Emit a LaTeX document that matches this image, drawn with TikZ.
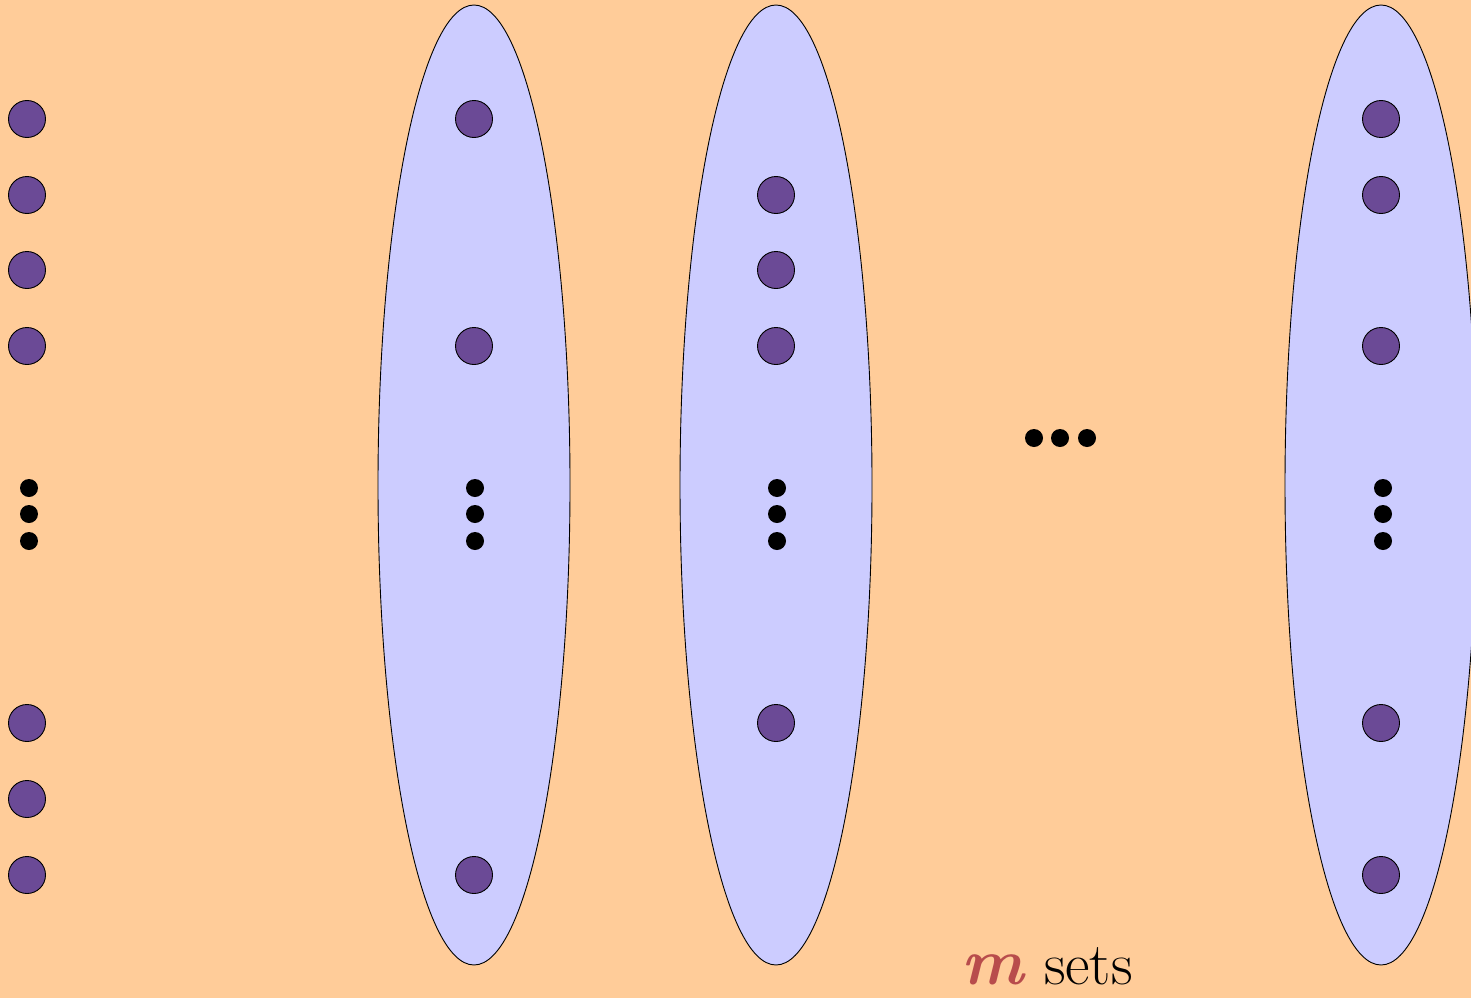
\documentclass[tikz,border=0pt]{standalone}
\usetikzlibrary{shapes.geometric}
\definecolor{bgorange}{RGB}{255,204,153}
\definecolor{setblue}{RGB}{204,204,255}
\definecolor{elempurple}{RGB}{107,74,150}
\definecolor{mred}{RGB}{184,76,76}
\begin{document}
\begin{tikzpicture}[x=1pt,y=-1pt,
  setshape/.style={ellipse,draw=black,line width=0.9pt,fill=setblue,minimum width=192pt,minimum height=960pt,inner sep=0pt},
  elem/.style={circle,draw=black,line width=0.9pt,fill=elempurple,minimum size=37pt,inner sep=0pt},
  bigdot/.style={circle,fill=black,minimum size=18pt,inner sep=0pt}]
\fill[bgorange] (0,0) rectangle (1471,998);
\useasboundingbox (0,0) rectangle (1471,998);
% sets
\node[setshape] (S1) at (474,485) {};
\node[setshape] (S2) at (776,485) {};
\node[setshape] (S3) at (1381,485) {};
% universe column
\foreach \y [count=\i] in {119,195,270,346,723,799,875}
  \node[elem] (u\i) at (27,\y) {};
\foreach \y [count=\i] in {119,346,875}
  \node[elem] (a\i) at (474,\y) {};
\foreach \y [count=\i] in {195,270,346,723}
  \node[elem] (b\i) at (776,\y) {};
\foreach \y [count=\i] in {119,195,346,723,875}
  \node[elem] (c\i) at (1381,\y) {};
% vertical dots
\foreach \x/\n in {29/u,475/a,777/b,1383/c}
  \foreach \y [count=\i] in {488,514,541}
    \node[bigdot] (vd\n\i) at (\x,\y) {};
% horizontal dots
\foreach \x [count=\i] in {1034,1060,1087}
  \node[bigdot] (hd\i) at (\x,438) {};
% label
\node[anchor=base,inner sep=0pt] (lbl) at (1047,984) {\fontsize{60}{60}\selectfont\textcolor{mred}{\fontsize{66}{66}\selectfont\textbf{\textit{m}}} sets};
\end{tikzpicture}
\end{document}
